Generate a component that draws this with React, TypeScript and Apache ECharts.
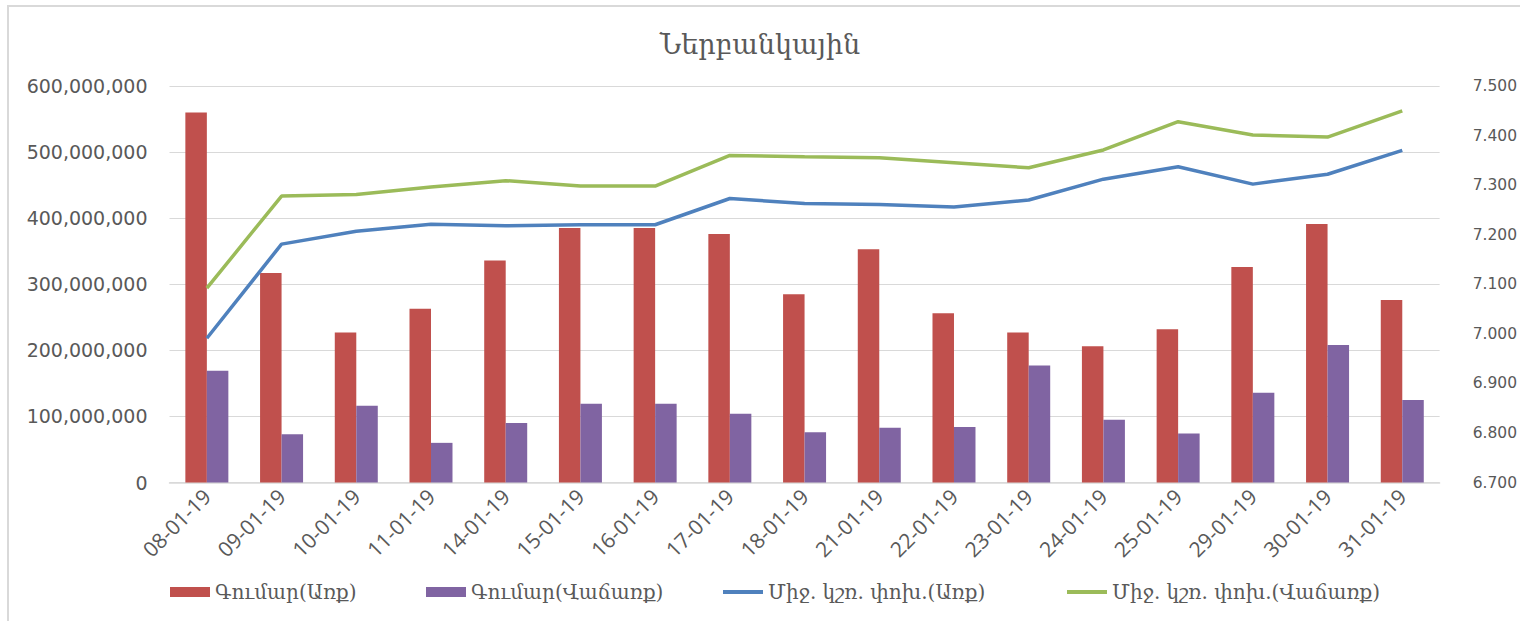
import React, { useEffect, useRef } from "react";
import * as echarts from "echarts";

const categories = ["08-01-19","09-01-19","10-01-19","11-01-19","14-01-19","15-01-19","16-01-19","17-01-19","18-01-19","21-01-19","22-01-19","23-01-19","24-01-19","25-01-19","29-01-19","30-01-19","31-01-19"];
const buyAmount = [560e6,317e6,227e6,263e6,336e6,385e6,385e6,376e6,285e6,353e6,256e6,227e6,206e6,232e6,326e6,391e6,276e6];
const sellAmount = [169e6,73e6,116e6,60e6,90e6,119e6,119e6,104e6,76e6,83e6,84e6,177e6,95e6,74e6,136e6,208e6,125e6];
const buyRate = [6.991,7.181,7.207,7.221,7.218,7.220,7.220,7.273,7.263,7.261,7.256,7.270,7.312,7.337,7.302,7.322,7.370];
const sellRate = [7.092,7.278,7.281,7.296,7.309,7.298,7.298,7.360,7.357,7.355,7.345,7.335,7.371,7.428,7.401,7.397,7.450];
const seriesNames = ["Գումար(Առք)","Գումար(Վաճառք)","Միջ. կշռ. փոխ.(Առք)","Միջ. կշռ. փոխ.(Վաճառք)"];
const title = "Ներբանկային";

const TXT = "#595959";
const ARM = "'DejaVu Serif', serif";
const NUM = "'DejaVu Sans', sans-serif";

export default function App() {
  const ref = useRef<HTMLDivElement>(null);
  useEffect(() => {
    const chart = echarts.init(ref.current!, null, { renderer: "svg" });
    const legendLefts = [165, 421, 718, 1062];
    chart.setOption({
      animation: false,
      backgroundColor: "#fff",
      title: {
        text: title,
        left: "center",
        top: 26,
        textStyle: { fontFamily: ARM, fontSize: 27, fontWeight: "normal", color: TXT },
      },
      graphic: [
        { type: "rect", shape: { x: 8, y: 6, width: 1600, height: 700 }, style: { fill: "none", stroke: "#D9D9D9", lineWidth: 2 }, silent: true },
      ],
      legend: seriesNames.map((n, i) => ({
        data: [{ name: n, icon: "rect" }],
        left: legendLefts[i],
        top: 577,
        itemWidth: 40,
        itemHeight: i < 2 ? 10 : 4,
        itemGap: 0,
        textStyle: { fontFamily: ARM, fontSize: 20, color: TXT },
      })),
      grid: { left: 169.5, right: 75.5, top: 86, bottom: 138.5, containLabel: false },
      xAxis: {
        type: "category",
        data: categories,
        axisLine: { lineStyle: { color: "#D9D9D9", width: 1.5 } },
        axisTick: { show: false },
        axisLabel: { rotate: 45, interval: 0, margin: 10, fontFamily: "'Open Sans', sans-serif", fontSize: 21, color: TXT },
      },
      yAxis: [
        {
          type: "value",
          min: 0,
          max: 600e6,
          interval: 100e6,
          axisLine: { show: false },
          axisTick: { show: false },
          splitLine: { lineStyle: { color: "#D9D9D9", width: 1.2 } },
          axisLabel: {
            margin: 22,
            fontFamily: NUM,
            fontSize: 19,
            color: TXT,
            formatter: (v: number) => v.toLocaleString("en-US"),
          },
        },
        {
          type: "value",
          min: 6.7,
          max: 7.5,
          interval: 0.1,
          axisLine: { show: false },
          axisTick: { show: false },
          splitLine: { show: false },
          axisLabel: {
            margin: 33,
            fontFamily: NUM,
            fontSize: 15.5,
            color: TXT,
            formatter: (v: number) => v.toFixed(3),
          },
        },
      ],
      series: [
        { name: seriesNames[0], type: "bar", data: buyAmount, barWidth: 21.5, barGap: "0%", itemStyle: { color: "#C0504D" } },
        { name: seriesNames[1], type: "bar", data: sellAmount, barWidth: 21.5, barGap: "0%", itemStyle: { color: "#8064A2" } },
        { name: seriesNames[2], type: "line", yAxisIndex: 1, data: buyRate, symbol: "none", lineStyle: { color: "#4F81BD", width: 3.5 }, itemStyle: { color: "#4F81BD" } },
        { name: seriesNames[3], type: "line", yAxisIndex: 1, data: sellRate, symbol: "none", lineStyle: { color: "#9BBB59", width: 3.5 }, itemStyle: { color: "#9BBB59" } },
      ],
    });
    return () => chart.dispose();
  }, []);
  return <div ref={ref} style={{ position: "absolute", left: 0, top: 0, width: 1520, height: 621 }} />;
}
